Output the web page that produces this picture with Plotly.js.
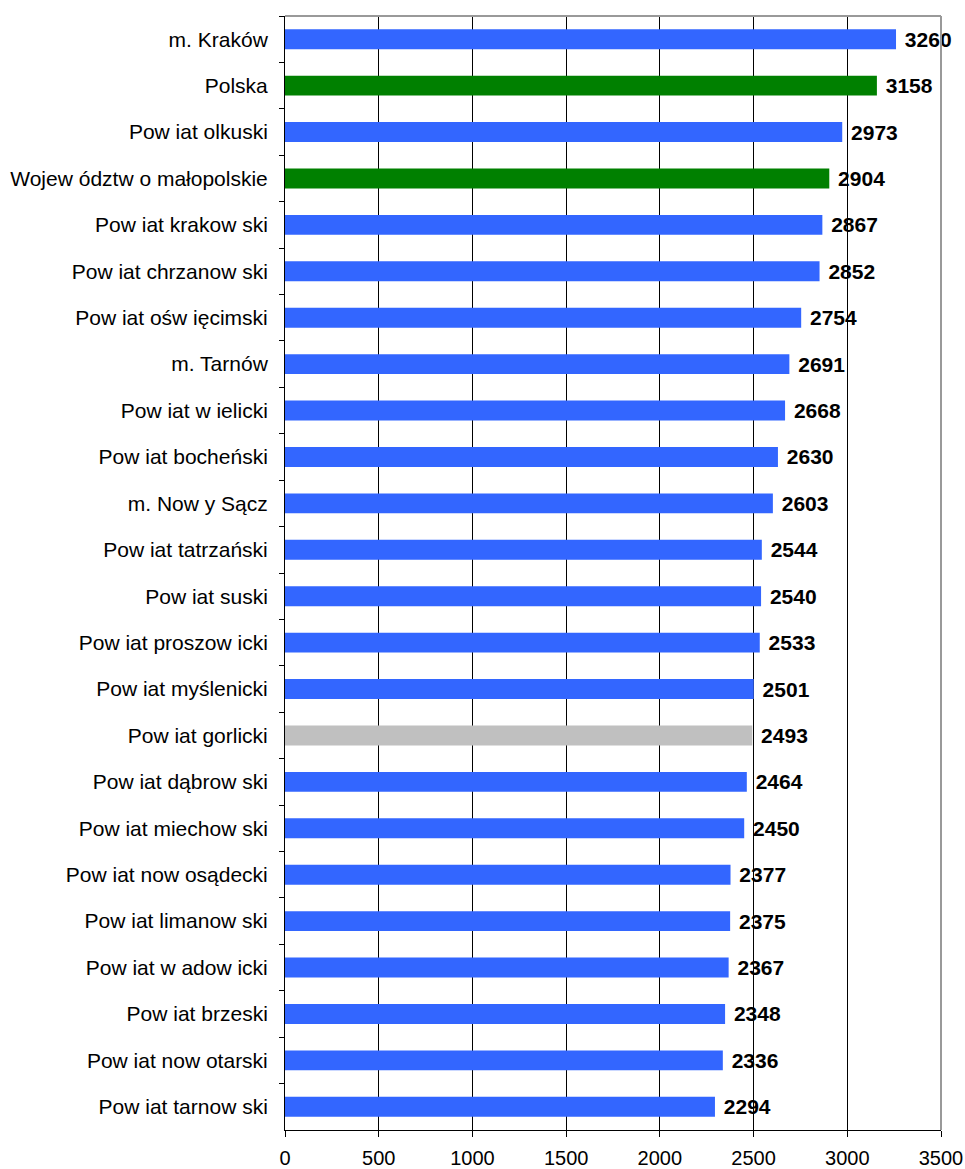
<!DOCTYPE html>
<html><head><meta charset="utf-8">
<script src="https://cdn.plot.ly/plotly-3.0.1.min.js"></script>
<style>body{margin:0;background:#fff}#chart{width:965px;height:1169px}</style>
</head><body><div id="chart"></div>
<script>
const categories = ["m. Kraków","Polska","Pow iat olkuski","Wojew ództw o małopolskie","Pow iat krakow ski","Pow iat chrzanow ski","Pow iat ośw ięcimski","m. Tarnów","Pow iat w ielicki","Pow iat bocheński","m. Now y Sącz","Pow iat tatrzański","Pow iat suski","Pow iat proszow icki","Pow iat myślenicki","Pow iat gorlicki","Pow iat dąbrow ski","Pow iat miechow ski","Pow iat now osądecki","Pow iat limanow ski","Pow iat w adow icki","Pow iat brzeski","Pow iat now otarski","Pow iat tarnow ski"];
const values = [3260,3158,2973,2904,2867,2852,2754,2691,2668,2630,2603,2544,2540,2533,2501,2493,2464,2450,2377,2375,2367,2348,2336,2294];
const groups = ["city","country","county","region","county","county","county","city","county","county","city","county","county","county","county","highlight","county","county","county","county","county","county","county","county"];
const groupColors = {city:"#3366FF",county:"#3366FF",country:"#008000",region:"#008000",highlight:"#C0C0C0"};
const xTicks = [0,500,1000,1500,2000,2500,3000,3500];

const trace = {
  type:"bar", orientation:"h",
  x: values, y: categories,
  marker:{color: groups.map(g=>groupColors[g]), line:{width:0}},
  texttemplate:"\u00a0%{x}", textposition:"outside", cliponaxis:false, constraintext:"none",
  textfont:{family:"Liberation Sans, Arial, sans-serif", size:21, color:"#000", weight:"bold"},
  hoverinfo:"none"
};
const layout = {
  width:965, height:1169,
  margin:{l:285, r:24, t:16, b:39},
  paper_bgcolor:"#fff", plot_bgcolor:"#fff",
  bargap:0.57, showlegend:false,
  font:{family:"Liberation Sans, Arial, sans-serif", color:"#000"},
  xaxis:{range:[0,3500], tickvals:xTicks, ticktext:xTicks.map(String), showgrid:true, gridcolor:"#000", gridwidth:1,
         zeroline:false, showline:true, linecolor:"#000", linewidth:1, ticks:"outside", ticklen:6, tickcolor:"#000",
         ticklabelstandoff:4, tickfont:{size:20}, fixedrange:true},
  yaxis:{autorange:"reversed", type:"category", showgrid:false, zeroline:false, showline:true, linecolor:"#000", linewidth:1,
         ticks:"outside", ticklen:5, tickcolor:"#000", tickson:"boundaries", ticklabelstandoff:12,
         tickfont:{size:21}, fixedrange:true},
  shapes:[
    {type:"line", xref:"paper", yref:"paper", x0:0, x1:1, y0:1, y1:1, line:{color:"#999", width:2}, layer:"above"},
    {type:"line", xref:"paper", yref:"paper", x0:1, x1:1, y0:0, y1:1, line:{color:"#999", width:2}, layer:"above"}
  ]
};
Plotly.newPlot("chart",[trace],layout,{displayModeBar:false, staticPlot:true});
</script></body></html>
